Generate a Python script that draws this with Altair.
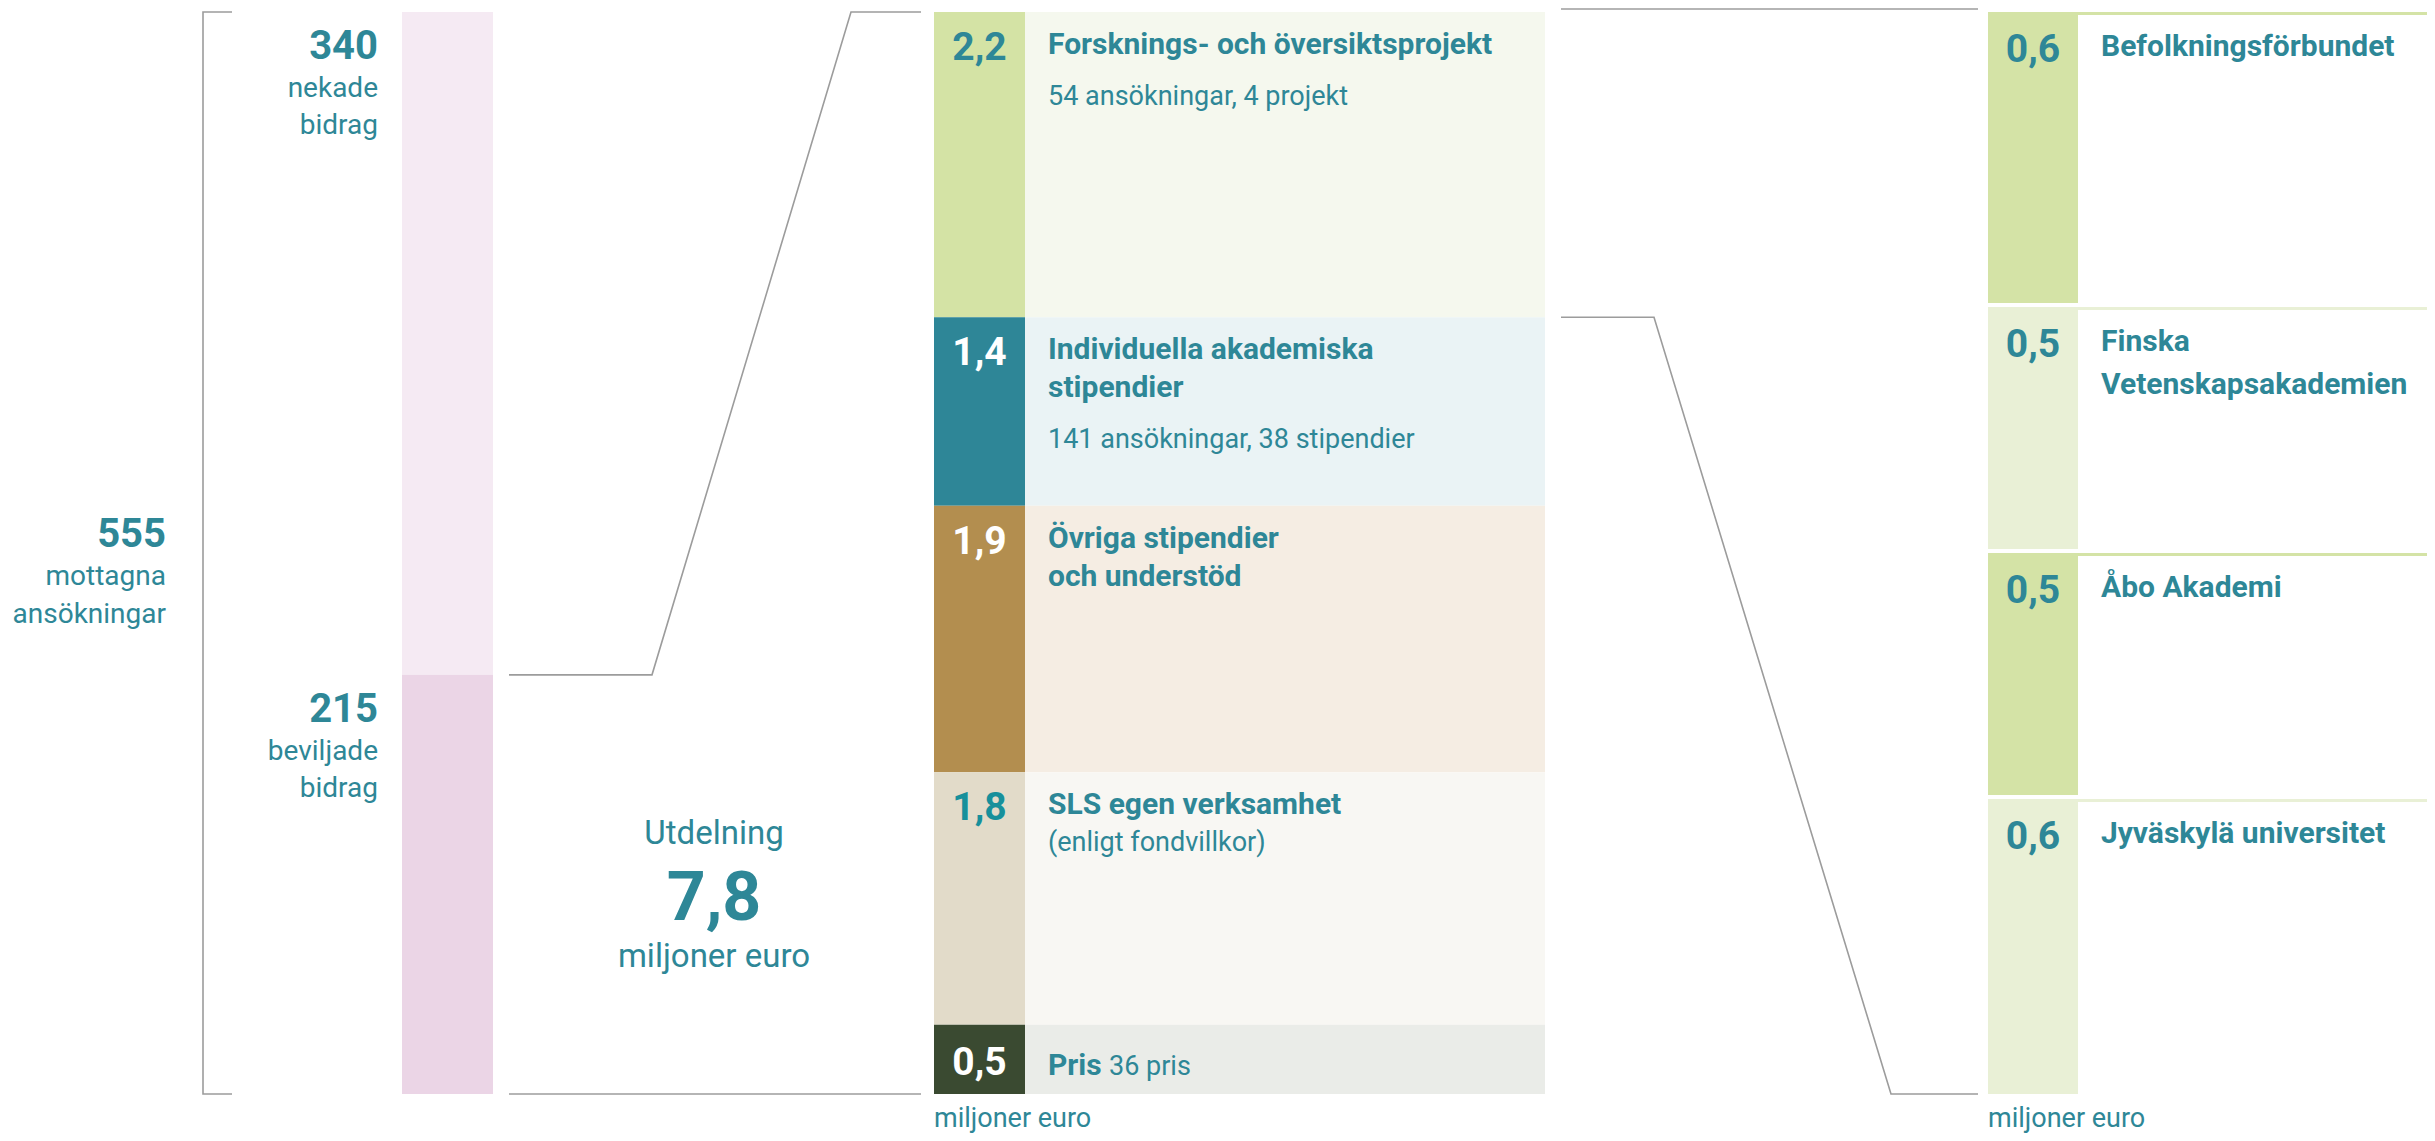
import altair as alt
import pandas as pd

# ---------------- data ----------------
received_total = 555
received_label = ["mottagna", "ansökningar"]

app_counts = [340, 215]
app_labels = [["nekade", "bidrag"], ["beviljade", "bidrag"]]

grant_total = 7.8
grant_label_top = "Utdelning"
unit_label = "miljoner euro"

# segment sizes; labels show them to one decimal
mid_values = [2.2, 1.36, 1.92, 1.82, 0.5]
mid_titles = [
    ["Forsknings- och översiktsprojekt"],
    ["Individuella akademiska", "stipendier"],
    ["Övriga stipendier", "och understöd"],
    ["SLS egen verksamhet"],
    ["Pris"],
]
mid_notes = ["54 ansökningar, 4 projekt", "141 ansökningar, 38 stipendier", "",
             "(enligt fondvillkor)", "36 pris"]

right_values = [0.6, 0.5, 0.5, 0.6]
right_titles = [
    ["Befolkningsförbundet"],
    ["Finska", "Vetenskapsakademien"],
    ["Åbo Akademi"],
    ["Jyväskylä universitet"],
]

# ---------------- styles ----------------
TEAL = "#2e8797"
GRAY = "#9c9c9c"
FONT = "Roboto"
app_colors = ["#f5eaf3", "#ebd5e6"]
mid_colors = ["#d4e3a5", "#2e8697", "#b38e4f", "#e2dbc9", "#3a4a31"]
mid_bg = ["#f5f8ee", "#eaf3f5", "#f5ede3", "#f8f7f3", "#eaece8"]
mid_num_colors = [TEAL, "white", "white", "#17909b", "white"]
right_colors = ["#d4e3a6", "#e9f0d6", "#d4e3a6", "#e9f0d6"]

# ---------------- layout (page pixels) ----------------
PAGE_W, PAGE_H, M = 2435, 1141, 8
W, HCH = PAGE_W - 2 * M, PAGE_H - 2 * M
Y_TOP, Y_BOT = 12, 1094
SPAN = Y_BOT - Y_TOP


def off(px):
    return px / SPAN


def fmt(v):
    return f"{v:.1f}".replace(".", ",")


rects, texts, lines, rules = [], [], [], []


def T(x, y, text, size, weight="normal", align="left", color=TEAL):
    texts.append(dict(x=x, y=y, text=text, size=size, weight=weight, align=align, color=color))


def stack(values, x0, x1, colors, gap=0):
    total = sum(values)
    cum, tops = 0.0, []
    for i, (v, c) in enumerate(zip(values, colors)):
        y0 = cum / total
        cum += v
        y1 = cum / total
        g = gap if i < len(values) - 1 else 0
        rects.append(dict(x=x0, x2=x1, y=y0, y2=y1 - off(g), color=c))
        tops.append(y0)
    tops.append(1.0)
    return tops


# left: applications
app_tops = stack(app_counts, 402, 493, app_colors)
for (cnt, lab), t in zip(zip(app_counts, app_labels), app_tops):
    T(378, t + off(47), str(cnt), 40, "bold", "right")
    T(378, t + off(85), lab[0], 28, "normal", "right")
    T(378, t + off(122), lab[1], 28, "normal", "right")
T(166, 0.5 + off(-6), str(received_total), 40, "bold", "right")
T(166, 0.5 + off(32), received_label[0], 28, "normal", "right")
T(166, 0.5 + off(70), received_label[1], 28, "normal", "right")

# bracket
for i, (x, y) in enumerate([(232, 0.0), (203, 0.0), (203, 1.0), (232, 1.0)]):
    lines.append(dict(line="bracket", i=i, x=x, y=y))

# grant total label
gmid = (app_tops[1] + 1.0) / 2
T(714, gmid + off(-40), grant_label_top, 33, "normal", "center")
T(714, gmid + off(36), fmt(grant_total), 68, "bold", "center")
T(714, gmid + off(83), unit_label, 33, "normal", "center")

# middle stack
mid_tops = stack(mid_values, 934, 1025, mid_colors)
stack(mid_values, 1025, 1545, mid_bg)
for i, v in enumerate(mid_values):
    t = mid_tops[i]
    last = i == len(mid_values) - 1
    T(979.5, t + off(50 if last else 48), fmt(v), 39, "bold", "center", mid_num_colors[i])
    if last:
        T(1048, t + off(50), mid_titles[i][0], 30, "bold")
        T(1109, t + off(50), mid_notes[i], 27)
        continue
    yy = 42
    for k, line in enumerate(mid_titles[i]):
        T(1048, t + off(yy), line, 30, "bold")
        yy += 38
    if mid_notes[i]:
        note_y = yy - 38 + (37 if len(mid_titles[i]) == 1 and i == 3 else 51)
        T(1048, t + off(note_y), mid_notes[i], 27)
T(934, 1.0 + off(33), unit_label, 27)

# connectors left -> middle
for i, (x, y) in enumerate([(509, app_tops[1]), (652, app_tops[1]), (851, 0.0), (921, 0.0)]):
    lines.append(dict(line="l_up", i=i, x=x, y=y))
for i, (x, y) in enumerate([(509, 1.0), (921, 1.0)]):
    lines.append(dict(line="l_dn", i=i, x=x, y=y))

# connectors middle -> right (first middle segment is broken down)
for i, (x, y) in enumerate([(1561, mid_tops[0] - off(3)), (1978, mid_tops[0] - off(3))]):
    lines.append(dict(line="r_up", i=i, x=x, y=y))
for i, (x, y) in enumerate([(1561, mid_tops[1]), (1654, mid_tops[1]), (1891, 1.0), (1978, 1.0)]):
    lines.append(dict(line="r_dn", i=i, x=x, y=y))

# right stack
right_tops = stack(right_values, 1988, 2078, right_colors, gap=4)
for i, v in enumerate(right_values):
    t = right_tops[i]
    rules.append(dict(x=2078, x2=PAGE_W - M, y=t + off(1.5), color=right_colors[i]))
    T(2033, t + off(50), fmt(v), 39, "bold", "center")
    for k, line in enumerate(right_titles[i]):
        T(2101, t + off(44 + 43 * k), line, 30, "bold")
T(1988, 1.0 + off(33), unit_label, 27)

# ---------------- chart ----------------
xs = alt.Scale(domain=[M, M + W], range=[0, W], nice=False, zero=False)
ys = alt.Scale(domain=[0, 1], range=[Y_TOP - M, Y_BOT - M], nice=False, zero=False)

rect_df = pd.DataFrame(rects)
text_df = pd.DataFrame(texts)
line_df = pd.DataFrame(lines)
rule_df = pd.DataFrame(rules)

rect_layer = alt.Chart(rect_df).mark_rect().encode(
    x=alt.X("x:Q", scale=xs, axis=None),
    x2="x2:Q",
    y=alt.Y("y:Q", scale=ys, axis=None),
    y2="y2:Q",
    color=alt.Color("color:N", scale=None),
)

rule_layer = alt.Chart(rule_df).mark_rule(strokeWidth=3).encode(
    x=alt.X("x:Q", scale=xs, axis=None),
    x2="x2:Q",
    y=alt.Y("y:Q", scale=ys, axis=None),
    color=alt.Color("color:N", scale=None),
)

line_layer = alt.Chart(line_df).mark_line(color=GRAY, strokeWidth=1.6, strokeJoin="miter").encode(
    x=alt.X("x:Q", scale=xs, axis=None),
    y=alt.Y("y:Q", scale=ys, axis=None),
    detail="line:N",
    order="i:Q",
)

text_layers = []
for (w, a), sub in text_df.groupby(["weight", "align"]):
    text_layers.append(
        alt.Chart(sub.reset_index(drop=True)).mark_text(
            align=a, baseline="alphabetic", font=FONT, fontWeight=w
        ).encode(
            x=alt.X("x:Q", scale=xs, axis=None),
            y=alt.Y("y:Q", scale=ys, axis=None),
            text="text:N",
            size=alt.Size("size:Q", scale=None),
            color=alt.Color("color:N", scale=None),
        )
    )

chart = alt.layer(rect_layer, rule_layer, line_layer, *text_layers).properties(
    width=W,
    height=HCH,
    autosize=alt.AutoSizeParams(type="none"),
    padding=0,
    background="white",
).configure_view(stroke=None)

chart.save("out.html", embed_options={"renderer": "svg", "actions": False})
